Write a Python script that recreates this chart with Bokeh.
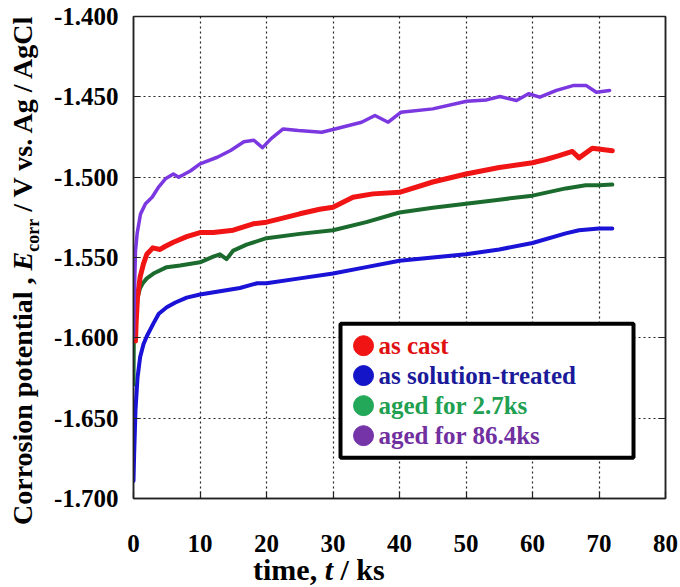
from bokeh.plotting import figure
from bokeh.layouts import row, column
from bokeh.models import (Label, BoxAnnotation, LinearAxis, FixedTicker, Range1d,
                          PrintfTickFormatter, Div)
from bokeh.embed import file_html
from bokeh.resources import INLINE

# ---------------- data ----------------
x_ticks = [0, 10, 20, 30, 40, 50, 60, 70, 80]
y_ticks = [-1.70, -1.65, -1.60, -1.55, -1.50, -1.45, -1.40]

t_cast = [0.3, 0.4, 0.6, 1.0, 1.5, 2.0, 2.9, 4.0, 4.8, 6.0, 8.0, 10.0, 12.0, 15.0, 18.0,
          20.0, 22.0, 25.0, 28.0, 30.0, 33.0, 36.0, 40.0, 45.0, 50.0, 55.0, 60.0, 62.0,
          64.0, 66.0, 67.0, 69.0, 72.0]
v_cast = [-1.602, -1.590, -1.575, -1.562, -1.554, -1.548, -1.544, -1.545, -1.543, -1.5405,
          -1.537, -1.5345, -1.5345, -1.533, -1.529, -1.528, -1.526, -1.5228, -1.520, -1.5187,
          -1.5125, -1.5104, -1.5094, -1.503, -1.498, -1.494, -1.491, -1.489, -1.4866, -1.484,
          -1.488, -1.482, -1.4835]

t_sol = [0.0, 0.1, 0.3, 0.6, 1.0, 1.5, 2.0, 3.0, 3.8, 5.0, 6.3, 8.0, 10.0, 13.0, 16.0,
         18.6, 20.0, 25.0, 30.0, 35.0, 40.0, 45.0, 50.0, 55.0, 60.0, 65.0, 67.0, 70.0, 72.0]
v_sol = [-1.689, -1.672, -1.645, -1.625, -1.612, -1.604, -1.599, -1.591, -1.585, -1.581,
         -1.578, -1.575, -1.573, -1.571, -1.569, -1.566, -1.566, -1.563, -1.560, -1.556,
         -1.552, -1.550, -1.548, -1.545, -1.541, -1.535, -1.533, -1.532, -1.532]

t_aged27 = [0.0, 0.05, 0.2, 0.4, 0.6, 1.0, 1.4, 2.0, 3.0, 5.0, 7.0, 10.0, 12.0, 13.0, 14.0,
            15.0, 17.0, 20.0, 25.0, 30.0, 35.0, 40.0, 45.0, 50.0, 55.0, 60.0, 65.0, 68.0,
            70.0, 72.0]
v_aged27 = [-1.629, -1.600, -1.590, -1.580, -1.575, -1.569, -1.566, -1.563, -1.560, -1.556,
            -1.555, -1.553, -1.5495, -1.548, -1.551, -1.5457, -1.542, -1.538, -1.5353,
            -1.533, -1.528, -1.522, -1.519, -1.5165, -1.514, -1.5115, -1.507, -1.505,
            -1.505, -1.5046]

t_aged864 = [0.0, 0.15, 0.3, 0.55, 1.05, 1.8, 2.8, 3.8, 4.8, 6.0, 6.8, 7.5, 8.6, 10.0, 12.6,
             14.6, 16.6, 18.1, 19.4, 20.7, 22.5, 24.8, 28.3, 30.3, 34.3, 36.3, 38.3, 40.2,
             45.0, 50.1, 53.1, 55.1, 57.6, 59.4, 61.1, 63.6, 66.1, 68.1, 69.6, 71.6]
v_aged864 = [-1.600, -1.570, -1.546, -1.535, -1.523, -1.5166, -1.5125, -1.506, -1.501,
             -1.498, -1.500, -1.4985, -1.496, -1.4917, -1.4876, -1.4834, -1.478, -1.477,
             -1.4816, -1.476, -1.470, -1.471, -1.472, -1.470, -1.4658, -1.4616, -1.4658,
             -1.4596, -1.4575, -1.4527, -1.4519, -1.4498, -1.4523, -1.4481, -1.4502,
             -1.446, -1.443, -1.443, -1.4471, -1.446]

series_names = ["as cast", "as solution-treated", "aged for 2.7ks", "aged for 86.4ks"]

# ---------------- styles ----------------
FONT = "Liberation Serif"
line_colors = ["#f01414", "#1a12d6", "#1c6b2e", "#7b38e0"]
line_widths = [5.0, 4.0, 4.0, 3.5]
legend_marker_colors = ["#f01414", "#1414c8", "#22a858", "#7535a8"]
legend_text_colors = ["#e01010", "#1a1a9a", "#20a050", "#7030a0"]

p = figure(width=640, height=560, output_backend="svg", toolbar_location=None,
           x_range=Range1d(0, 80), y_range=Range1d(-1.7, -1.4),
           min_border_left=93, min_border_right=15, min_border_top=16,
           min_border_bottom=62, margin=0)
p.background_fill_color = "white"
p.border_fill_color = "white"
p.outline_line_color = "#222222"
p.outline_line_width = 1.5

for ax in (p.xaxis[0], p.yaxis[0]):
    ax.axis_line_color = "#222222"
    ax.axis_line_width = 1.5
    ax.major_tick_in = 7
    ax.major_tick_out = 0
    ax.major_tick_line_color = "#222222"
    ax.major_tick_line_width = 1.2
    ax.minor_tick_line_color = None
    ax.major_label_text_font = FONT
    ax.major_label_text_font_style = "bold"
    ax.major_label_text_font_size = "25px"
    ax.major_label_text_color = "black"

p.xaxis[0].ticker = FixedTicker(ticks=x_ticks)
p.yaxis[0].ticker = FixedTicker(ticks=y_ticks)
p.yaxis[0].formatter = PrintfTickFormatter(format="%.3f")
p.xaxis[0].major_label_standoff = 36
p.yaxis[0].major_label_standoff = 15

right = LinearAxis(ticker=FixedTicker(ticks=y_ticks), major_label_text_font_size="1px",
                   major_label_text_color=None, major_label_standoff=0,
                   major_tick_in=7, major_tick_out=0,
                   axis_line_color="#222222", axis_line_width=1.5,
                   major_tick_line_color="#222222", minor_tick_line_color=None)
p.add_layout(right, "right")

for g in (p.xgrid[0], p.ygrid[0]):
    g.grid_line_color = "black"
    g.grid_line_dash = "2 3"
    g.grid_line_width = 1.2
    g.grid_line_alpha = 0.85
p.xgrid[0].ticker = FixedTicker(ticks=x_ticks)
p.ygrid[0].ticker = FixedTicker(ticks=y_ticks)

# ---------------- curves ----------------
all_t = [t_cast, t_sol, t_aged27, t_aged864]
all_v = [v_cast, v_sol, v_aged27, v_aged864]
draw_order = [1, 2, 0, 3]
for i in draw_order:
    p.line(all_t[i], all_v[i], line_color=line_colors[i], line_width=line_widths[i],
           line_join="round", line_cap="round")

# ---------------- legend box ----------------
box = BoxAnnotation(left=31.13, right=75.19, top=-1.5912, bottom=-1.6746,
                    fill_color="white", fill_alpha=1.0, line_color="black",
                    line_alpha=1.0, line_width=4, level="underlay")
p.add_layout(box)

leg_marker_x = 34.59
leg_text_x = 36.84
leg_rows_v = [-1.6049, -1.6235, -1.6422, -1.6609]
p.scatter([leg_marker_x] * 4, leg_rows_v, marker="circle", size=20,
          fill_color=legend_marker_colors, line_color=legend_marker_colors)
for name, col, yv in zip(series_names, legend_text_colors, leg_rows_v):
    p.add_layout(Label(x=leg_text_x, y=yv, text=name, text_font=FONT,
                       text_font_style="bold", text_font_size="25px", text_color=col,
                       text_baseline="middle", text_align="left"))

# ---------------- axis titles (HTML, for italic / subscript) ----------------
ytitle_html = (
    "<div style=\"transform-origin:0 0; transform:translate(7px,525px) rotate(-90deg);"
    " white-space:nowrap; width:max-content; font-family:'Liberation Serif', serif;"
    " font-weight:bold; font-size:28px; line-height:31px; color:black;\">"
    "Corrosion potential , <i>E</i><sub style=\"font-size:18px;\">corr</sub>"
    " / V vs. Ag / AgCl</div>"
)
xtitle_html = (
    "<div style=\"position:relative; top:-4px; padding-left:213px; white-space:nowrap;"
    " font-family:'Liberation Serif', serif; font-weight:bold; font-size:30px;"
    " line-height:27px; color:black;\">time, <i>t</i> / ks</div>"
)
ytitle = Div(text=ytitle_html, width=40, height=587, margin=0,
             styles={"overflow": "visible"})
xtitle = Div(text=xtitle_html, width=640, height=27, margin=0,
             styles={"overflow": "visible"})

layout = row(ytitle, column(p, xtitle, spacing=0), spacing=0)

open("out.html", "w").write(file_html(layout, INLINE))
